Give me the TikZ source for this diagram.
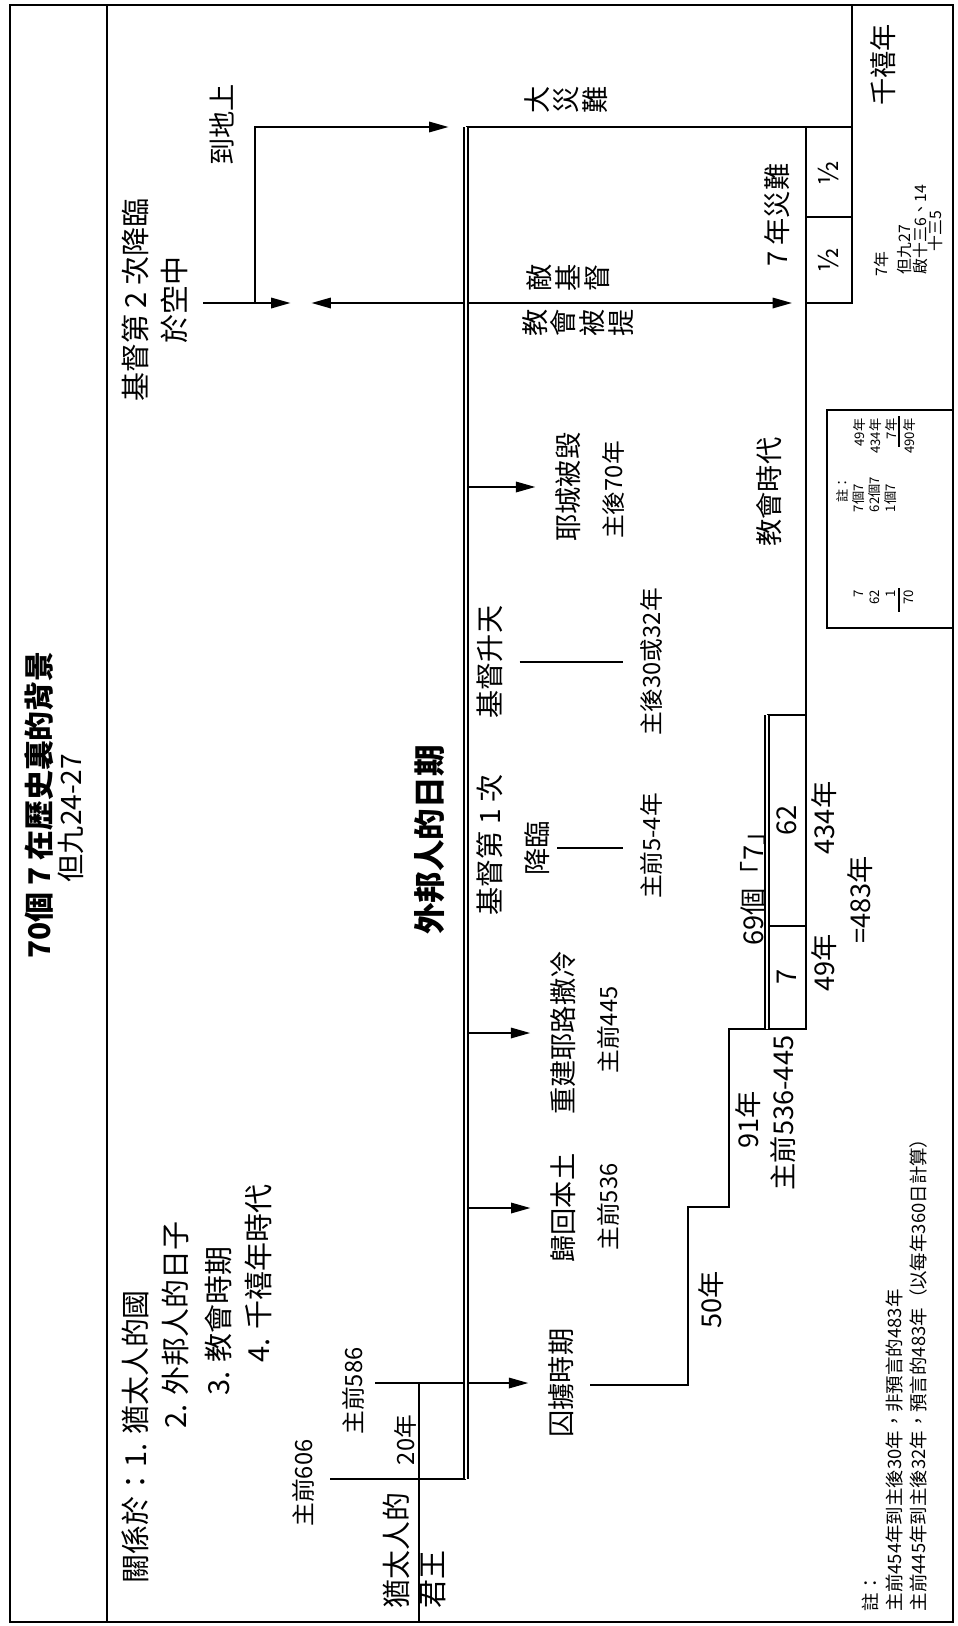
\documentclass[tikz,border=0pt]{standalone}
\usepackage{fontspec}
\setmainfont{Noto Sans CJK TC}
\usetikzlibrary{arrows.meta, positioning}

\begin{document}
\begin{tikzpicture}[
            x=0.02cm, y=-0.02cm,
            line width=0.9pt,
            >={Triangle[length=11pt, width=6pt]},
            lbl/.style={rotate=90, inner sep=2pt, font=\fontsize{15.5}{18}\selectfont},
            big/.style={lbl, align=center, font=\fontsize{16.5}{22.5}\selectfont},
            stack/.style={lbl, align=center, font=\fontsize{15.5}{16.4}\selectfont},
            date/.style={lbl, font=\fontsize{13.5}{16}\selectfont},
            note/.style={lbl, inner sep=0pt, font=\fontsize{10.5}{13.5}\selectfont},
            tiny/.style={lbl, inner sep=0pt, font=\fontsize{9}{10}\selectfont},
            sum/.style={lbl, inner sep=0pt, font=\fontsize{7.5}{9}\selectfont},
            gentile/.style={double, double distance=1.6pt}
        ]
        \useasboundingbox (0,0) rectangle (957,1626);
        \draw (10,5) rectangle (953,1622);
        \draw (107,5) -- (107,1622);
        \node[lbl, font=\fontsize{17}{20}\bfseries] (title) at (39,805) {70個 7 在歷史裏的背景};
        \node[lbl, font=\fontsize{16}{19}\selectfont] (verse) at (71,818) {但九24-27};

        \coordinate (gtop) at (466,127);
        \coordinate (gbot) at (466,1479);
        \coordinate (air) at (301,303);
        \coordinate (turn) at (255,303);
        \coordinate (trib) at (806,303);
        \coordinate (b586) at (375,1383);

        % 猶太人的國
        \draw (852,5) -- (852,303) -- (806,303);
        \draw (gtop) -- (852,127);
        \draw (806,217) -- (852,217);
        \draw (806,127) -- (806,1029) -- (729,1029) -- (729,1207) -- (688,1207) -- (688,1385) -- (590,1385);
        \draw (767,715) -- (806,715) (767,926) -- (806,926);
        \draw[double, double distance=1.2pt] (767,715) -- (767,1029);
        \draw (330,1479) -- (gbot);
        \draw (419,1383) -- (419,1622);

        \node[big, anchor=west] (l1) at (135,1588) {關係於：1. 猶太人的國};
        \node[big, anchor=west] (l2) at (175,1433) {2. 外邦人的日子};
        \node[big, anchor=west] (l3) at (218,1400) {3. 教會時期};
        \node[big, anchor=west] (l4) at (258,1367) {4. 千禧年時代};

        \node[big] (second) at (155,300) {基督第 2 次降臨\\於空中};
        \node[lbl] (earth) at (222,125) {到地上};
        \node[stack] (great) at (566,100) {大\\災\\難};
        \node[stack] (anti) at (568,278) {敵\\基\\督};
        \node[stack] (rapture) at (578,323) {教\\會\\被\\提};
        \node[lbl] (seven) at (777,215) {7 年災難};
        \node[lbl] (half1) at (829,173) {½};
        \node[lbl] (half2) at (829,260) {½};
        \node[lbl] (mill) at (883,65) {千禧年};
        \node[tiny, anchor=west] (yrs) at (881,277) {7年};
        \node[tiny, anchor=west] (r1) at (905,275) {但九27};
        \node[tiny, anchor=west] (r2) at (920,275) {啟十三6、14};
        \node[tiny, anchor=west] (r3) at (935,252) {十三5};

        \node[lbl] (fall) at (568,487) {耶城被毀};
        \node[date] (d70) at (613,490) {主後70年};
        \node[lbl] (age) at (769,492) {教會時代};
        \node[lbl, font=\fontsize{16}{19}\selectfont] (asc) at (490,662) {基督升天};
        \node[date] (d30) at (651,662) {主後30或32年};
        \node[lbl, font=\fontsize{16}{19}\selectfont] (first) at (490,845) {基督第 1 次};
        \node[lbl] (came) at (537,848) {降臨};
        \node[date] (d5) at (651,846) {主前5-4年};
        \node[lbl, font=\fontsize{18}{21}\bfseries] (gent) at (430,840) {外邦人的日期};
        \node[lbl] (build) at (563,1033) {重建耶路撒冷};
        \node[date] (d445) at (608,1030) {主前445};
        \node[lbl] (back) at (563,1208) {歸回本土};
        \node[date] (d536) at (608,1207) {主前536};
        \node[lbl] (exile) at (561,1383) {囚擄時期};
        \node[date] (d606) at (303,1483) {主前606};
        \node[date] (d586) at (353,1391) {主前586};
        \node[date] (y20) at (405,1440) {20年};
        \node[big, anchor=west] (jews) at (396,1613) {猶太人的};
        \node[big, anchor=west] (king) at (433,1613) {君王};

        \node[lbl] (n69) at (753,882) {69個「7」};
        \node[lbl] (b7) at (787,977) {7};
        \node[lbl] (b62) at (787,820) {62};
        \node[lbl] (y49) at (824,963) {49年};
        \node[lbl] (y434) at (824,818) {434年};
        \node[lbl] (y483) at (860,900) {=483年};
        \node[lbl] (y91) at (748,1120) {91年};
        \node[lbl] (span) at (783,1113) {主前536-445};
        \node[lbl] (y50) at (711,1300) {50年};

        \draw (827,410) rectangle (953,628);
        \node[sum, anchor=west] (nb) at (842,503) {註：};
        \foreach \n/\x in {7/859, 62/875, 1/891, 70/909}
            \node[sum, anchor=east] (c\n) at (\x,589) {\n};
        \foreach \n/\x in {7/859, 62/875, 1/891}
            \node[sum, anchor=west] (g\n) at (\x,513) {\n 個7};
        \foreach \n/\x in {49/859, 434/875, 7/891, 490/909}
            \node[sum, anchor=east] (s\n) at (\x,418) {\n 年};
        \draw (899,588) -- (899,612) (899,416) -- (899,447);

        \node[note, anchor=west] (f0) at (870,1612) {註：};
        \node[note, anchor=west] (f1) at (895,1612) {主前454年到主後30年，非預言的483年};
        \node[note, anchor=west] (f2) at (918,1612) {主前445年到主後32年，預言的483年（以每年360日計算）};

        \draw[->, shorten <=6pt, shorten >=6pt] (second.south |- air) -- (air);
        \draw[<->, shorten <=6pt, shorten >=8pt] (air) -- (trib);
        \draw[->, shorten >=10pt] (turn) |- (gtop);
        \foreach \ev in {fall, build, back}
            \draw[->, shorten >=9pt] (\ev.north -| gtop) -- (\ev.north);
        \draw[->, shorten >=9pt] (b586) -- (exile.north);
        \draw[shorten <=7pt, shorten >=7pt] (asc.south) -- (asc.south -| d30.north);
        \draw[shorten <=2pt, shorten >=7pt] (came.south) -- (came.south -| d5.north);

        \draw[gentile] (gtop) -- (gbot);
\end{tikzpicture}
\end{document}
